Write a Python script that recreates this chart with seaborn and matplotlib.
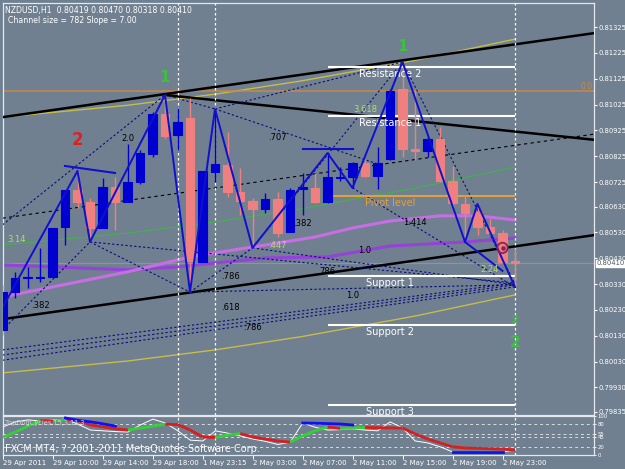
import numpy as np
import pandas as pd
import matplotlib.pyplot as plt
import seaborn as sns

plt.rcParams['font.family'] = ['DejaVu Sans']

BG = '#708090'

# H1 bars, index 0..41
opens = [0.80152, 0.80299, 0.80354, 0.80354, 0.80358, 0.80551, 0.80694, 0.80648, 0.80547, 0.80706,
         0.80648, 0.80725, 0.80834, 0.80988, 0.80907, 0.80973, 0.80416, 0.80764, 0.80791, 0.80686,
         0.80652, 0.80621, 0.80659, 0.80532, 0.80698, 0.80702, 0.80648, 0.80741, 0.80745, 0.80799,
         0.80748, 0.80814, 0.81085, 0.80853, 0.80845, 0.80892, 0.80729, 0.80640, 0.80609, 0.80551,
         0.80528, 0.80419]
highs = [0.80327, 0.80377, 0.80396, 0.80470, 0.80547, 0.80694, 0.80768, 0.80663, 0.80741, 0.80745,
         0.80872, 0.80849, 0.80996, 0.81062, 0.81012, 0.81050, 0.80768, 0.81008, 0.80919, 0.80779,
         0.80663, 0.80683, 0.80686, 0.80702, 0.80760, 0.80760, 0.80837, 0.80783, 0.80803, 0.80814,
         0.80861, 0.81085, 0.81190, 0.81081, 0.80899, 0.80938, 0.80787, 0.80675, 0.80640, 0.80582,
         0.80539, 0.80470]
lows = [0.80133, 0.80276, 0.80315, 0.80338, 0.80358, 0.80481, 0.80625, 0.80493, 0.80547, 0.80539,
        0.80648, 0.80717, 0.80822, 0.80895, 0.80849, 0.80299, 0.80416, 0.80725, 0.80667, 0.80597,
        0.80470, 0.80605, 0.80512, 0.80532, 0.80597, 0.80644, 0.80644, 0.80729, 0.80702, 0.80745,
        0.80698, 0.80810, 0.80822, 0.80810, 0.80822, 0.80725, 0.80628, 0.80493, 0.80520, 0.80524,
        0.80412, 0.80318]
closes = [0.80299, 0.80354, 0.80358, 0.80358, 0.80547, 0.80694, 0.80648, 0.80547, 0.80706, 0.80648,
          0.80725, 0.80837, 0.80988, 0.80903, 0.80957, 0.80419, 0.80768, 0.80795, 0.80686, 0.80652,
          0.80621, 0.80659, 0.80528, 0.80694, 0.80706, 0.80648, 0.80745, 0.80745, 0.80799, 0.80748,
          0.80799, 0.81077, 0.80853, 0.80845, 0.80892, 0.80729, 0.80644, 0.80605, 0.80551, 0.80528,
          0.80416, 0.80410]

x_ticks = [0, 4, 8, 12, 16, 20, 24, 28, 32, 36, 40]
x_labels = ['29 Apr 2011', '29 Apr 10:00', '29 Apr 14:00', '29 Apr 18:00', '1 May 23:15',
            '2 May 03:00', '2 May 07:00', '2 May 11:00', '2 May 15:00', '2 May 19:00', '2 May 23:00']
y_ticks = [0.81325, 0.81225, 0.81125, 0.81025, 0.80925, 0.80825, 0.80725, 0.80630,
           0.80530, 0.80430, 0.80330, 0.80230, 0.80130, 0.80030, 0.79930, 0.79835]
separators = [14, 17, 41]

# trend channel (straight), and descending trendline
chan_x = [0, 48]
chan_upper = [0.80976, 0.81306]
chan_mid = [0.80585, 0.80915]
chan_lower = [0.80194, 0.80524]
down_x = [13, 48]
down_y = [0.81062, 0.80885]

# curved regression channel
reg_x = [0, 10, 17, 24, 33, 41]
reg_mid = [0.80481, 0.80527, 0.80570, 0.80622, 0.80701, 0.80783]
reg_upper = [0.80976, 0.81022, 0.81065, 0.81117, 0.81196, 0.81278]
reg_lower = [0.79986, 0.80032, 0.80075, 0.80127, 0.80206, 0.80288]

# moving averages
ma1_x = [0, 10, 15, 21, 25, 28, 31, 35, 38, 41]
ma1_y = [0.80280, 0.80377, 0.80435, 0.80481, 0.80512, 0.80547, 0.80574, 0.80594, 0.80594, 0.80578]
ma2_x = [0, 10, 14, 21, 26, 31, 37, 41]
ma2_y = [0.80404, 0.80385, 0.80396, 0.80431, 0.80435, 0.80477, 0.80493, 0.80508]

# zigzag
zz_x = [-1, 6, 7, 13, 15, 17, 20, 26, 28, 32, 37, 38, 41]
zz_y = [0.80150, 0.80768, 0.80493, 0.81062, 0.80299, 0.81008, 0.80470, 0.80837, 0.80702,
        0.81190, 0.80493, 0.80640, 0.80318]

# pivots
fib0 = 0.81078
pivot_names = ['Resistance 2', 'Resistance 1', 'Pivot level', 'Support 1', 'Support 2', 'Support 3']
pivot_vals = [0.81170, 0.80981, 0.80671, 0.80361, 0.80172, 0.79862]

# dashed pattern lines: (x1, y1, x2, y2)
pattern_lines = [
    (0, 0.80559, 13, 0.81062), (0, 0.80152, 7, 0.80493), (7, 0.80493, 15, 0.80299),
    (17, 0.81008, 30, 0.80795), (13, 0.81062, 17, 0.81008), (17, 0.81008, 32, 0.81190),
    (15, 0.80299, 20, 0.80470), (20, 0.80470, 32, 0.81190), (28, 0.80702, 41, 0.80318),
    (32, 0.81190, 41, 0.80330), (20, 0.80470, 41, 0.80327), (15, 0.80299, 41, 0.80327),
    (7, 0.80493, 41, 0.80334), (0, 0.80075, 41, 0.80334), (0, 0.80055, 41, 0.80327),
    (0, 0.80035, 41, 0.80319),
]
ratio_labels = [('.382', 3, 0.80245), ('2.0', 10, 0.80895), ('.707', 22, 0.80899),
                ('.786', 18.2, 0.80361), ('.618', 18.2, 0.80241), ('.786', 20, 0.80160),
                ('.382', 24, 0.80563), ('1.0', 29, 0.80458), ('1.414', 33, 0.80570),
                ('1.0', 28, 0.80284), ('786', 26, 0.80377)]
ratio_labels_yg = [('.447', 22, 0.80478), ('3.618', 29, 0.81004), ('2.24', 39, 0.80385)]

# TopDogCycles indicator
cyc_main = [46, 59, 74, 88, 87, 90, 88, 77, 72, 67, 64, 69, 74, 79, 78, 64, 46, 45, 51, 55, 46,
            41, 36, 33, 49, 62, 72, 68, 69, 70.5, 70, 69.5, 69, 54, 41, 31, 21, 18, 17, 16, 15, 13]
cyc_fast = [72, 85, 90, 87, 90, 92, 79, 64, 62, 60, 59, 77, 92, 82, 62, 38, 36, 62, 56, 49, 41,
            35, 27, 33, 82, 71, 64, 65, 67, 64, 62, 85, 69, 36, 31, 21, 8, 8, 8, 8, 8, 13]
cyc_sig_x = [[5, 6, 7, 8, 9], [24, 25, 26, 27, 28], [36, 37, 38, 39, 40]]
cyc_sig_y = [[95, 89, 85, 80, 74], [82, 81.5, 80.5, 79.5, 77], [8.5, 8.5, 8.5, 8.5, 8.5]]
cyc_levels = [20, 45, 55, 80]

bars = pd.DataFrame({'open': opens, 'high': highs, 'low': lows, 'close': closes})
bars['x'] = np.arange(len(bars))
bars['up'] = bars['close'] >= bars['open']

fig = plt.figure(figsize=(6.25, 4.69), dpi=100, facecolor=BG)
ax = fig.add_axes([3 / 625, 54 / 469, 591 / 625, 412 / 469], facecolor=BG)
ax2 = fig.add_axes([3 / 625, 14 / 469, 591 / 625, 39 / 469], facecolor=BG)
XL = (0.04, 47.32)

# background lines
ax.axhline(closes[-1], color='#8796A6', lw=0.9, zorder=1)
ax.plot(chan_x, chan_upper, color='black', lw=1.8, zorder=3)
ax.plot(chan_x, chan_lower, color='black', lw=1.8, zorder=3)
ax.plot(chan_x, chan_mid, color='black', lw=0.8, ls=(0, (3, 3)), zorder=3)
ax.plot(down_x, down_y, color='black', lw=1.8, zorder=3)
sns.lineplot(x=reg_x, y=reg_upper, ax=ax, color='#C8BC48', lw=1, sort=False, zorder=2)
sns.lineplot(x=reg_x, y=reg_lower, ax=ax, color='#C8BC48', lw=1, sort=False, zorder=2)
sns.lineplot(x=reg_x, y=reg_mid, ax=ax, color='#3FB449', lw=0.8, sort=False, zorder=2)
sns.lineplot(x=ma2_x, y=ma2_y, ax=ax, color='#9442D8', lw=2.2, sort=False, zorder=2)
sns.lineplot(x=ma1_x, y=ma1_y, ax=ax, color='#C86EE4', lw=2.2, sort=False, zorder=2)
ax.axhline(fib0, color='#C68A4A', lw=1.1, zorder=2)
ax.text(XL[1] - 0.1, fib0, '0.0', color='#C68A4A', fontsize=5.5, ha='right', va='bottom')

for x1, y1, x2, y2 in pattern_lines:
    ax.plot([x1, x2], [y1, y2], color='#0A0A80', lw=0.8, ls=(0, (2, 2)), zorder=4)

# pivots
for name, val in zip(pivot_names, pivot_vals):
    col = '#E0A040' if name == 'Pivot level' else 'white'
    ax.hlines(val, 26, 41, color=col, lw=1.5, zorder=4)
    ax.annotate(name, (31, val), xytext=(0, -1.5), textcoords='offset points',
                ha='center', va='top', color=col, fontsize=7, zorder=6)

# candles
for _, b in bars.iterrows():
    col = '#0000D0' if b['up'] else '#F08080'
    ax.vlines(b['x'], b['low'], b['high'], color=col, lw=1, zorder=5)
    lo, hi = min(b['open'], b['close']), max(b['open'], b['close'])
    ax.bar(b['x'], hi - lo, bottom=lo, width=0.66, color=col, edgecolor=col, lw=0.8, zorder=5)

# zigzag and marks
sns.lineplot(x=zz_x, y=zz_y, ax=ax, color='#1010D0', lw=1.4, sort=False, zorder=6)
ax.plot([37, 40], [0.80493, 0.80381], color='#1010D0', lw=1.4, zorder=6)
ax.plot([5, 9], [0.80787, 0.80760], color='#1010D0', lw=1.5, zorder=6)
ax.plot([24, 28], [0.80853, 0.80853], color='#1010D0', lw=1.5, zorder=6)
ax.scatter([40], [0.80470], s=55, facecolors='none', edgecolors='#8B2252', lw=1.3, zorder=7)
ax.scatter([40], [0.80470], s=5, color='#8B2252', zorder=7)

for t, x, y in ratio_labels:
    ax.text(x, y, t, color='black', fontsize=6, ha='center', va='center', zorder=6)
for t, x, y in ratio_labels_yg:
    ax.text(x, y, t, color='#B4DC6E', fontsize=6, ha='center', va='center', zorder=6)
ax.text(0.4, 0.80501, '3.14', color='#B4DC6E', fontsize=6, ha='left', va='center', zorder=6)

ax.text(6, 0.80888, '2', color='#E02020', fontsize=12, fontweight='bold', ha='center', va='center', zorder=7)
ax.text(13, 0.81128, '1', color='#3CC040', fontsize=11, fontweight='bold', ha='center', va='center', zorder=7)
ax.text(32, 0.81248, '1', color='#3CC040', fontsize=11, fontweight='bold', ha='center', va='center', zorder=7)
ax.text(41, 0.80102, '2', color='#3CC040', fontsize=11, fontweight='bold', ha='center', va='center', zorder=7)
ax.text(41, 0.80191, '2', color='#3CC040', fontsize=7, fontweight='bold', ha='center', va='center', zorder=7)

for s in separators:
    ax.axvline(s, color='white', lw=0.9, ls=(0, (2, 2)), zorder=4)
    ax2.axvline(s, color='white', lw=0.9, ls=(0, (2, 2)), zorder=2)

ax.text(0.004, 0.993, 'NZDUSD,H1  %.5f %.5f %.5f %.5f' % (opens[-1], highs[-1], lows[-1], closes[-1]),
        transform=ax.transAxes, color='white', fontsize=5.6, ha='left', va='top')
ax.text(0.009, 0.968, 'Channel size = 782 Slope = 7.00', transform=ax.transAxes,
        color='white', fontsize=5.6, ha='left', va='top')

ax.set_xlim(*XL)
ax.set_ylim(0.79823, 0.81418)
ax.set_xticks([])
ax.yaxis.tick_right()
ax.set_yticks(y_ticks)
ax.set_yticklabels(['%.5f' % v for v in y_ticks])
ax.tick_params(axis='y', colors='white', labelsize=4.9, length=2, pad=1, width=0.8)
ax.text(1.004, closes[-1], '%.5f' % closes[-1], transform=ax.get_yaxis_transform(),
        color='#4A5868', fontsize=4.9, ha='left', va='center', zorder=10, clip_on=False,
        bbox=dict(facecolor='white', edgecolor='white', pad=0.5))

# indicator pane
for lv in cyc_levels:
    ax2.axhline(lv, color='#D8DCE0', lw=0.7, ls=(0, (3, 3)), zorder=1)
sns.lineplot(x=bars['x'], y=cyc_fast, ax=ax2, color='white', lw=0.7, sort=False, zorder=3)
for i in range(len(cyc_main) - 1):
    col = '#34D034' if cyc_main[i + 1] > cyc_main[i] else '#D81E1E'
    ax2.plot([i, i + 1], [cyc_main[i], cyc_main[i + 1]], color=col, lw=2, zorder=4,
             solid_capstyle='butt')
for xs, ys in zip(cyc_sig_x, cyc_sig_y):
    sns.lineplot(x=xs, y=ys, ax=ax2, color='#1010F0', lw=2, sort=False, zorder=5)
ax2.text(0.004, 0.9, 'TopDogCycles 15,3 11,3', transform=ax2.transAxes, color='#D0D4D8',
         fontsize=4.8, ha='left', va='top', zorder=6)
ax2.text(0.004, 0.02, 'FXCM MT4, ? 2001-2011 MetaQuotes Software Corp.', transform=ax2.transAxes,
         color='white', fontsize=7, ha='left', va='bottom', zorder=6)
ax2.set_xlim(*XL)
ax2.set_ylim(0, 100)
ax2.yaxis.tick_right()
ax2.set_yticks([0, 20, 45, 55, 80, 100])
ax2.set_yticklabels(['0', '20', '45', '55', '80', '100'])
ax2.tick_params(axis='y', colors='white', labelsize=3.8, length=1.5, pad=1, width=0.6)
ax2.set_xticks(x_ticks)
ax2.set_xticklabels(x_labels, ha='left')
ax2.tick_params(axis='x', colors='white', labelsize=5, length=3, pad=0.5, width=0.7)

for a in (ax, ax2):
    a.set_xlabel('')
    a.set_ylabel('')
    for sp in a.spines.values():
        sp.set_color('#E4E8EC')
        sp.set_linewidth(0.9)

plt.savefig('out.png', dpi=100, facecolor=BG)
